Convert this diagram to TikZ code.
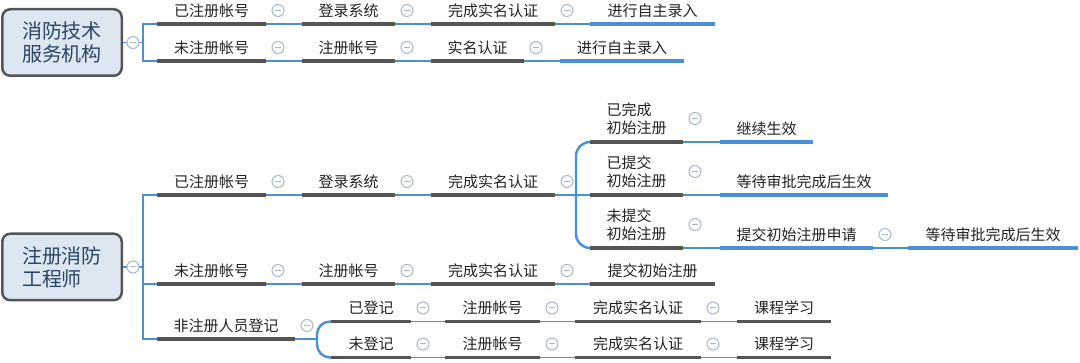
\documentclass[tikz,border=0pt]{standalone}
\usepackage{fontspec}
\newfontfamily\cjk{Noto Sans CJK SC}
\usetikzlibrary{calc}
\definecolor{mblue}{RGB}{74,144,214}
\definecolor{mgray}{RGB}{85,85,85}
\definecolor{boxfill}{RGB}{221,231,241}
\definecolor{boxtext}{RGB}{44,70,100}
\definecolor{circ}{RGB}{168,184,208}
\definecolor{tx}{RGB}{34,34,34}
\tikzset{
  topic/.style={anchor=south, inner sep=0pt, outer sep=0pt, minimum height=27pt,
    font=\cjk\fontsize{15}{18}\selectfont, text=tx, align=left},
  tall/.style={minimum height=47pt},
  rootbox/.style={draw=mgray, line width=2.5pt, fill=boxfill, rounded corners=8pt,
    inner sep=0pt, minimum width=119.5pt, minimum height=66.5pt,
    font=\cjk\fontsize{20}{23}\selectfont, text=boxtext, align=left},
  collapse/.style={circle, draw=circ, fill=white, line width=1pt, minimum size=12pt, inner sep=0pt,
    path picture={\draw[circ, line width=1pt] ([xshift=-3pt]path picture bounding box.center) -- ([xshift=3pt]path picture bounding box.center);}},
  graybar/.style={draw=mgray, line width=3.5pt},
  bluebar/.style={draw=mblue, line width=3.5pt},
  conn/.style={draw=mblue, line width=1.8pt},
  brk/.style={draw=mblue, line width=2.4pt},
}
\newcommand\tpc[7][]{%
  \node[topic,#1, minimum width={(#4-#3)*1pt}] (#2) at ({(#3+#4)/2},#5) {#7};
  \draw[#6] (#2.south west) -- (#2.south east);
}
\begin{document}
\begin{tikzpicture}[x=1pt,y=-1pt]
\useasboundingbox (0,0) rectangle (1080,363);

% ---------- tree 1 ----------
\node[rootbox] (r1) at (62,42.5) {消防技术\\服务机构};
\coordinate (j1) at (143,42.5);
\tpc{t1a}{157}{266}{24}{graybar}{已注册帐号}
\tpc{t1b}{302}{395}{24}{graybar}{登录系统}
\tpc{t1c}{431}{555}{24}{graybar}{完成实名认证}
\tpc{t1d}{590}{715}{24}{bluebar}{进行自主录入}
\tpc{t2a}{157}{266}{61}{graybar}{未注册帐号}
\tpc{t2b}{302}{395}{61}{graybar}{注册帐号}
\tpc{t2c}{431}{524}{61}{graybar}{实名认证}
\tpc{t2d}{560}{684}{61}{bluebar}{进行自主录入}

\draw[conn] (r1.east) -- (j1);
\draw[brk] (t1a.south west) -- (t1a.south west -| j1) -- (t2a.south west -| j1) -- (t2a.south west);
\draw[conn] (t1a.south east) -- (t1b.south west);
\draw[conn] (t1b.south east) -- (t1c.south west);
\draw[conn] (t1c.south east) -- (t1d.south west);
\draw[conn] (t2a.south east) -- (t2b.south west);
\draw[conn] (t2b.south east) -- (t2c.south west);
\draw[conn] (t2c.south east) -- (t2d.south west);

% ---------- tree 2 ----------
\node[rootbox] (r2) at (62,267) {注册消防\\工程师};
\coordinate (j2) at (143,267);
\tpc{u1a}{157}{266}{195}{graybar}{已注册帐号}
\tpc{u1b}{302}{395}{195}{graybar}{登录系统}
\tpc{u1c}{431}{555}{195}{graybar}{完成实名认证}
\coordinate (j3) at (576,195);
\tpc[tall]{v1}{590}{683}{142}{graybar}{已完成\\初始注册}
\tpc{v1l}{720}{813}{142}{bluebar}{继续生效}
\tpc[tall]{v2}{590}{683}{195}{graybar}{已提交\\初始注册}
\tpc{v2l}{720}{888}{195}{bluebar}{等待审批完成后生效}
\tpc[tall]{v3}{590}{683}{248}{graybar}{未提交\\初始注册}
\tpc{v3b}{720}{873}{248}{bluebar}{提交初始注册申请}
\tpc{v3l}{908}{1078}{248}{bluebar}{等待审批完成后生效}
\tpc{u2a}{157}{266}{284}{graybar}{未注册帐号}
\tpc{u2b}{302}{395}{284}{graybar}{注册帐号}
\tpc{u2c}{431}{555}{284}{graybar}{完成实名认证}
\tpc{u2d}{590}{715}{284}{graybar}{提交初始注册}
\tpc{u3a}{157}{295}{339}{graybar}{非注册人员登记}
\coordinate (j4) at (317,339);
\tpc{w1a}{331}{411}{321.5}{graybar}{已登记}
\tpc{w1b}{445}{540}{321.5}{graybar}{注册帐号}
\tpc{w1c}{575}{701}{321.5}{graybar}{完成实名认证}
\tpc{w1d}{737}{831}{321.5}{graybar}{课程学习}
\tpc{w2a}{331}{411}{357.5}{graybar}{未登记}
\tpc{w2b}{445}{540}{357.5}{graybar}{注册帐号}
\tpc{w2c}{575}{701}{357.5}{graybar}{完成实名认证}
\tpc{w2d}{737}{831}{357.5}{graybar}{课程学习}

\draw[conn] (r2.east) -- (j2);
\draw[brk] (u1a.south west) -- (u1a.south west -| j2) -- (u3a.south west -| j2) -- (u3a.south west);
\draw[brk] (u2a.south west -| j2) -- (u2a.south west);
\draw[conn] (u1a.south east) -- (u1b.south west);
\draw[conn] (u1b.south east) -- (u1c.south west);
\draw[conn] (u1c.south east) -- (v2.south west);
\draw[brk, rounded corners=14pt] (v1.south west) -- (v1.south west -| j3) -- (v3.south west -| j3) -- (v3.south west);
\draw[conn] (v1.south east) -- (v1l.south west);
\draw[conn] (v2.south east) -- (v2l.south west);
\draw[conn] (v3.south east) -- (v3b.south west);
\draw[conn] (v3b.south east) -- (v3l.south west);
\draw[conn] (u2a.south east) -- (u2b.south west);
\draw[conn] (u2b.south east) -- (u2c.south west);
\draw[conn] (u2c.south east) -- (u2d.south west);
\draw[conn] (u3a.south east) -- (j4);
\draw[brk, rounded corners=13pt] (w1a.south west) -- (w1a.south west -| j4) -- (w2a.south west -| j4) -- (w2a.south west);
\draw[conn] (w1a.south east) -- (w1b.south west);
\draw[conn] (w1b.south east) -- (w1c.south west);
\draw[conn] (w1c.south east) -- (w1d.south west);
\draw[conn] (w2a.south east) -- (w2b.south west);
\draw[conn] (w2b.south east) -- (w2c.south west);
\draw[conn] (w2c.south east) -- (w2d.south west);

% ---------- collapse markers ----------
\node[collapse] (k-r1) at ($(r1.east)!0.5!(j1)$) {};
\node[collapse] (k-r2) at ($(r2.east)!0.5!(j2)$) {};
\foreach \n in {t1a,t1b,t1c,t2a,t2b,t2c,u1a,u1b,u1c,v1,v2,v3,v3b,u2a,u2b,u2c,u3a,w1a,w1b,w1c,w2a,w2b,w2c}
  \node[collapse] (k-\n) at ([xshift=12pt]\n.east) {};
\end{tikzpicture}
\end{document}
